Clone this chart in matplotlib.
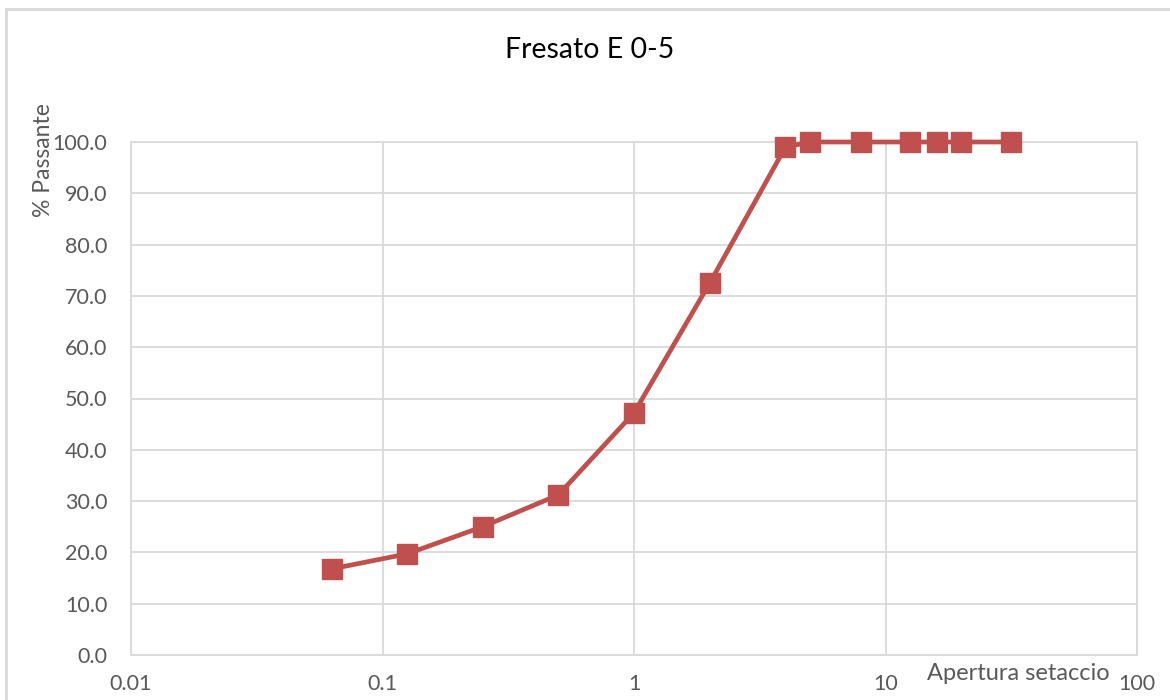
import matplotlib
matplotlib.use('Agg')
import matplotlib.pyplot as plt
from matplotlib.patches import Rectangle
from matplotlib.ticker import FixedLocator, NullLocator, FuncFormatter

plt.rcParams['font.family'] = ['Lato', 'DejaVu Sans']

# aperture setacci (mm) e percentuale passante
setacci = [0.063, 0.125, 0.25, 0.5, 1, 2, 4, 5, 8, 12.5, 16, 20, 31.5]
passante = [16.8, 19.7, 25.0, 31.2, 47.2, 72.5, 99.0, 100, 100, 100, 100, 100, 100]
x_ticks = [0.01, 0.1, 1, 10, 100]
x_tick_labels = ['0.01', '0.1', '1', '10', '100']
y_ticks = [0, 10, 20, 30, 40, 50, 60, 70, 80, 90, 100]

rosso = '#C0504D'
grigio = '#D9D9D9'
testo = '#595959'

fig = plt.figure(figsize=(11.7, 7.0), dpi=100)
ax = fig.add_axes([131 / 1170, 1 - 655 / 700, (1137 - 131) / 1170, (655 - 142) / 700])

ax.plot(setacci, passante, color=rosso, lw=3.4, marker='s', markersize=14,
        markerfacecolor=rosso, markeredgecolor=rosso, clip_on=False, zorder=3)

ax.set_xscale('log')
ax.set_xlim(0.01, 100)
ax.set_ylim(0, 100)
ax.xaxis.set_major_locator(FixedLocator(x_ticks))
ax.xaxis.set_minor_locator(NullLocator())
ax.set_xticklabels(x_tick_labels)
ax.set_yticks(y_ticks)
ax.yaxis.set_major_formatter(FuncFormatter(lambda v, p: f'{v:.1f}'))

ax.grid(True, color=grigio, lw=1.3)
ax.set_axisbelow(True)
for s in ax.spines.values():
    s.set_color(grigio)
    s.set_linewidth(1.3)
ax.tick_params(length=0, labelsize=15.5, colors=testo)
ax.tick_params(axis='y', pad=17)
ax.tick_params(axis='x', pad=14)

fig.text(590 / 1170, 1 - 50 / 700, 'Fresato E 0-5', ha='center', va='center',
         fontsize=20.5, color='black')
fig.text(43 / 1170, 1 - 160 / 700, '% Passante', ha='center', va='center',
         rotation=90, fontsize=16.5, color=testo)
fig.text(1018 / 1170, 1 - 673 / 700, 'Apertura setaccio', ha='center', va='center',
         fontsize=17, color=testo)

# bordo del grafico
fig.patches.append(Rectangle((6 / 1170, -0.1), 1.2, 1 - 9 / 700 + 0.1,
                             transform=fig.transFigure, fill=False,
                             edgecolor=grigio, lw=2))

fig.savefig('out.png', dpi=100)
